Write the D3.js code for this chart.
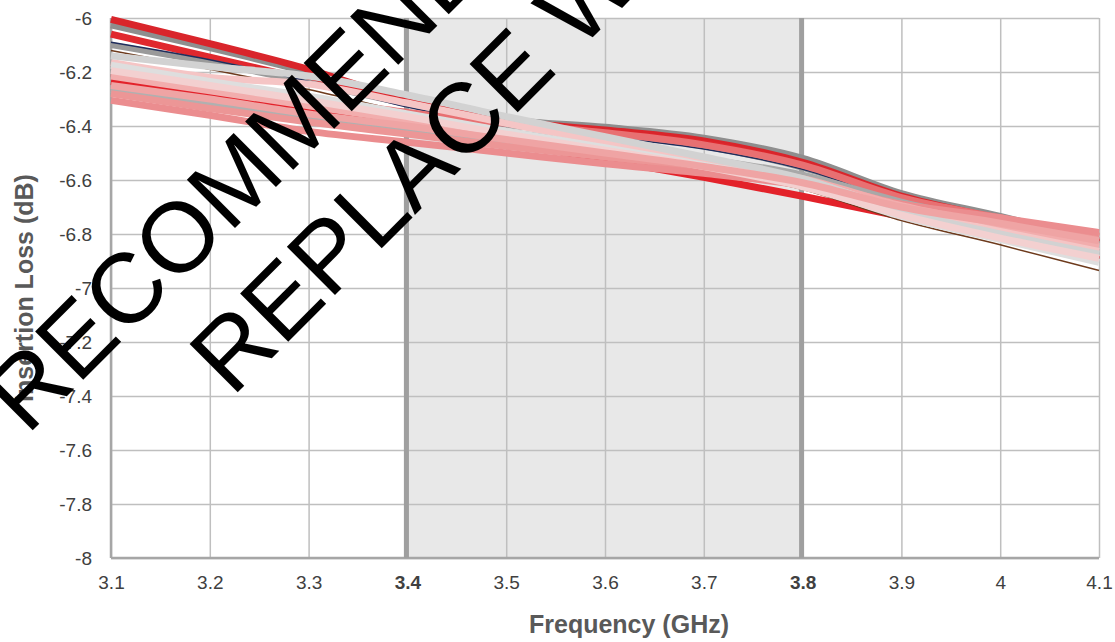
<!DOCTYPE html>
<html><head><meta charset="utf-8">
<script src="https://cdn.jsdelivr.net/npm/d3@7"></script>
<style>html,body{margin:0;padding:0;background:#fff;}svg{display:block;}</style>
</head><body>
<svg id="chart" width="1115" height="642"></svg>
<script>
const freqs = [3.1,3.2,3.3,3.4,3.5,3.6,3.7,3.8,3.9,4.0,4.1];
const xTicks = [3.1,3.2,3.3,3.4,3.5,3.6,3.7,3.8,3.9,4.0,4.1];
const xTickLabels = ["3.1","3.2","3.3","3.4","3.5","3.6","3.7","3.8","3.9","4","4.1"];
const boldTicks = [3.4,3.8];
const yTicks = [-6,-6.2,-6.4,-6.6,-6.8,-7,-7.2,-7.4,-7.6,-7.8,-8];
const yTickLabels = ["-6","-6.2","-6.4","-6.6","-6.8","-7","-7.2","-7.4","-7.6","-7.8","-8"];
const band = [3.4,3.8];

const seriesColors = ["#8e8e8e","#d9252b","#e0282e","#9a9a9a","#1f2d5c","#e3222a","#6d3a1c","#e87072","#a8a8a8","#b0b0b0","#ec9696","#eb8d8f","#f2adad","#f5c5c5","#d2d2d2","#dedede","#f3d0d0","#efa4a4"];
const seriesWidths = [7,7,7,6,1.5,7,1.5,7,6,7,7,7,7,7,7,7,7,7];
const s01 = [-6.025,-6.11,-6.20,-6.30,-6.375,-6.405,-6.445,-6.52,-6.65,-6.735,-6.825];
const s02 = [-6.005,-6.095,-6.19,-6.305,-6.38,-6.415,-6.455,-6.535,-6.66,-6.745,-6.83];
const s03 = [-6.06,-6.145,-6.23,-6.315,-6.39,-6.425,-6.465,-6.545,-6.67,-6.75,-6.835];
const s04 = [-6.10,-6.165,-6.24,-6.32,-6.395,-6.43,-6.475,-6.555,-6.675,-6.755,-6.84];
const s05 = [-6.09,-6.155,-6.235,-6.33,-6.40,-6.44,-6.485,-6.56,-6.68,-6.77,-6.86];
const s06 = [-6.235,-6.28,-6.335,-6.40,-6.46,-6.525,-6.59,-6.66,-6.735,-6.815,-6.895];
const s07 = [-6.12,-6.19,-6.265,-6.35,-6.43,-6.50,-6.565,-6.635,-6.75,-6.84,-6.935];
const s08 = [-6.205,-6.255,-6.30,-6.35,-6.39,-6.425,-6.47,-6.545,-6.665,-6.74,-6.81];
const s09 = [-6.19,-6.24,-6.30,-6.36,-6.42,-6.47,-6.52,-6.58,-6.68,-6.76,-6.835];
const s10 = [-6.265,-6.315,-6.365,-6.41,-6.455,-6.50,-6.545,-6.60,-6.695,-6.765,-6.84];
const s11 = [-6.28,-6.335,-6.385,-6.43,-6.475,-6.515,-6.555,-6.605,-6.69,-6.75,-6.805];
const s12 = [-6.305,-6.36,-6.42,-6.46,-6.50,-6.54,-6.575,-6.62,-6.69,-6.74,-6.795];
const s13 = [-6.215,-6.27,-6.325,-6.38,-6.435,-6.485,-6.535,-6.595,-6.695,-6.77,-6.845];
const s14 = [-6.165,-6.22,-6.245,-6.315,-6.39,-6.46,-6.53,-6.60,-6.71,-6.79,-6.865];
const s15 = [-6.14,-6.18,-6.215,-6.285,-6.365,-6.44,-6.515,-6.595,-6.715,-6.80,-6.875];
const s16 = [-6.175,-6.235,-6.29,-6.355,-6.42,-6.48,-6.545,-6.62,-6.735,-6.82,-6.905];
const s17 = [-6.195,-6.25,-6.305,-6.365,-6.43,-6.49,-6.55,-6.625,-6.73,-6.815,-6.89];
const s18 = [-6.25,-6.30,-6.355,-6.40,-6.45,-6.50,-6.55,-6.61,-6.70,-6.76,-6.825];
const seriesValues = [s01,s02,s03,s04,s05,s06,s07,s08,s09,s10,s11,s12,s13,s14,s15,s16,s17,s18];

const xTitle = "Frequency (GHz)";
const yTitle = "Insertion Loss (dB)";
const watermark1 = "RECOMMENDED FOR NEW DESIGNS";
const watermark2 = "REPLACE WITH";

const svg = d3.select("#chart");
const L = 111, R = 1099, T = 18, B = 558;
const x = d3.scaleLinear().domain([3.1,4.1]).range([L,R]);
const y = d3.scaleLinear().domain([-8,-6]).range([B,T]);
const font = "'Liberation Sans', Arial, sans-serif";

// shaded band
svg.append("rect").attr("x",x(band[0])).attr("y",T).attr("width",x(band[1])-x(band[0])).attr("height",B-T).attr("fill","#e8e8e8");

// gridlines
const gx = svg.append("g").attr("transform",`translate(0,${B})`)
  .call(d3.axisBottom(x).tickValues(xTicks).tickSize(-(B-T)).tickFormat(""));
gx.select(".domain").remove();
gx.selectAll("line").attr("stroke","#bfbfbf").attr("stroke-width",1.5);
const gy = svg.append("g").attr("transform",`translate(${L},0)`)
  .call(d3.axisLeft(y).tickValues(yTicks).tickSize(-(R-L)).tickFormat(""));
gy.select(".domain").remove();
gy.selectAll("line").attr("stroke","#bfbfbf").attr("stroke-width",1.5);

// axis lines
svg.append("line").attr("x1",L).attr("x2",L).attr("y1",T).attr("y2",B).attr("stroke","#a6a6a6").attr("stroke-width",2.5);
svg.append("line").attr("x1",L).attr("x2",R).attr("y1",B).attr("y2",B).attr("stroke","#a6a6a6").attr("stroke-width",2.5);

// band borders
band.forEach(b=>{
  svg.append("line").attr("x1",x(b)-1).attr("x2",x(b)-1).attr("y1",T).attr("y2",B)
    .attr("stroke","#9f9f9f").attr("stroke-width",5);
});

// tick labels
const ax = svg.append("g").attr("transform",`translate(0,${B})`)
  .call(d3.axisBottom(x).tickValues(xTicks).tickSize(0).tickPadding(0).tickFormat((d,i)=>xTickLabels[i]));
ax.select(".domain").remove();
ax.selectAll("text").attr("y",31).attr("dy",0).attr("font-family",font).attr("font-size",19)
  .attr("fill","#404040").attr("font-weight",d=>boldTicks.includes(d)?"bold":"normal");
const ay = svg.append("g").attr("transform",`translate(${L},0)`)
  .call(d3.axisLeft(y).tickValues(yTicks).tickSize(0).tickPadding(0).tickFormat((d,i)=>yTickLabels[i]));
ay.select(".domain").remove();
ay.selectAll("text").attr("x",-19).attr("dy","0.35em").attr("font-family",font).attr("font-size",19).attr("fill","#404040");

// series lines
const line = d3.line().x((d,i)=>x(freqs[i])).y(d=>y(d)).curve(d3.curveMonotoneX);
seriesValues.forEach((vals,i)=>{
  svg.append("path").datum(vals).attr("d",line).attr("fill","none")
    .attr("stroke",seriesColors[i]).attr("stroke-width",seriesWidths[i])
    .attr("stroke-linejoin","round");
});

// axis titles
svg.append("text").attr("x",629).attr("y",633).attr("text-anchor","middle")
  .attr("font-family",font).attr("font-weight","bold").attr("font-size",25).attr("fill","#595959").text(xTitle);
svg.append("text").attr("transform","translate(33,288) rotate(-90)").attr("text-anchor","middle")
  .attr("font-family",font).attr("font-weight","bold").attr("font-size",25).attr("fill","#595959").text(yTitle);

// watermark
svg.append("text").attr("transform","translate(27,436) rotate(-45)")
  .attr("font-family",font).attr("font-size",99).attr("fill","#000").text(watermark1);
svg.append("text").attr("transform","translate(232,398) rotate(-45)")
  .attr("font-family",font).attr("font-size",99).attr("fill","#000").text(watermark2);
</script>
</body></html>
